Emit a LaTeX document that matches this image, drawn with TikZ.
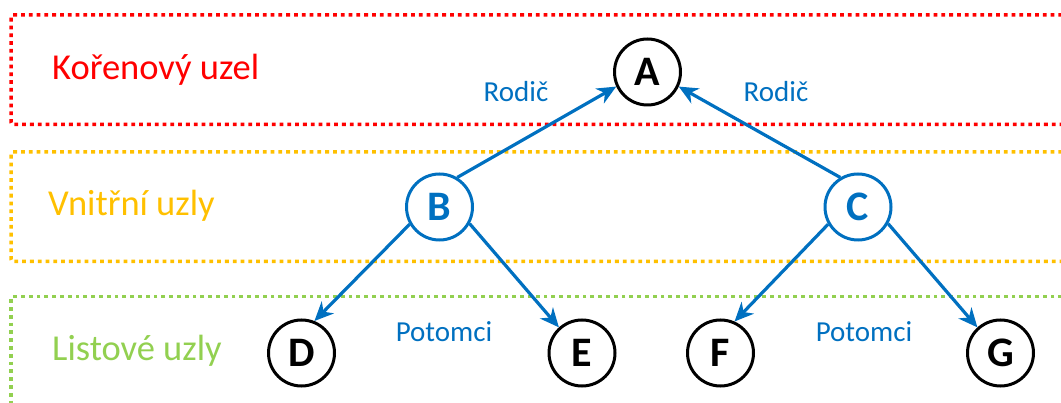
\documentclass[tikz,border=0pt]{standalone}
\usepackage{fontspec}
\setmainfont{Carlito}
\usetikzlibrary{arrows.meta}

\definecolor{levelred}{HTML}{FF0000}
\definecolor{levelyellow}{HTML}{FFC000}
\definecolor{levelgreen}{HTML}{92D050}
\definecolor{linkblue}{HTML}{0070C0}

\tikzset{
  levelbox/.style={line width=3.5pt, dash pattern=on 3.8pt off 4pt, rounded corners=2pt},
  levellabel/.style={anchor=west, inner sep=0pt, font=\fontsize{36.5}{40}\selectfont},
  treenode/.style={circle, draw=black, line width=3pt, fill=white, minimum size=66pt,
                   inner sep=0pt, font=\fontsize{42}{46}\selectfont\bfseries},
  innernode/.style={treenode, draw=linkblue, text=linkblue},
  link/.style={draw=linkblue, line width=3.2pt,
               -{Stealth[length=19pt, width=17pt, inset=6pt]}},
  linklabel/.style={inner sep=0pt, text=linkblue, font=\fontsize{29}{32}\selectfont},
}

\begin{document}
\begin{tikzpicture}[x=1pt, y=-1pt]
  \useasboundingbox (0,0) rectangle (1061,403);

  % level frames, open towards the right edge
  \draw[levelbox, levelred]    (1070,15)    -- (11,15)    -- (11,124.5) -- (1070,124.5);
  \draw[levelbox, levelyellow] (1070,152)   -- (11,152)   -- (11,261.5) -- (1070,261.5);
  \draw[levelbox, levelgreen]  (1070,296.5) -- (11,296.5) -- (11,420);

  % level names
  \node[levellabel, text=levelred]    (lroot)  at (52,70)  {Kořenový uzel};
  \node[levellabel, text=levelyellow] (linner) at (48,206) {Vnitřní uzly};
  \node[levellabel, text=levelgreen]  (lleaf)  at (52,351) {Listové uzly};

  % tree nodes
  \node[treenode]  (a) at (647.5,72)  {A};
  \node[innernode] (b) at (439.5,207) {B};
  \node[innernode] (c) at (858,207)   {C};
  \node[treenode]  (d) at (301.5,353) {D};
  \node[treenode]  (e) at (582,353)   {E};
  \node[treenode]  (f) at (720.5,353) {F};
  \node[treenode]  (g) at (1000.5,353) {G};

  % parent links
  \draw[link] (b.59)  -- (a.205);
  \draw[link] (c.121) -- (a.-25);

  % child links
  \draw[link] (b.210) -- (d.68);
  \draw[link] (b.-29) -- (e.132);
  \draw[link] (c.210) -- (f.66);
  \draw[link] (c.-29) -- (g.132);

  % link captions
  \node[linklabel] (rl) at (516,92)  {Rodič};
  \node[linklabel] (rr) at (776,92)  {Rodič};
  \node[linklabel] (pl) at (444,332) {Potomci};
  \node[linklabel] (pr) at (864,332) {Potomci};
\end{tikzpicture}
\end{document}
